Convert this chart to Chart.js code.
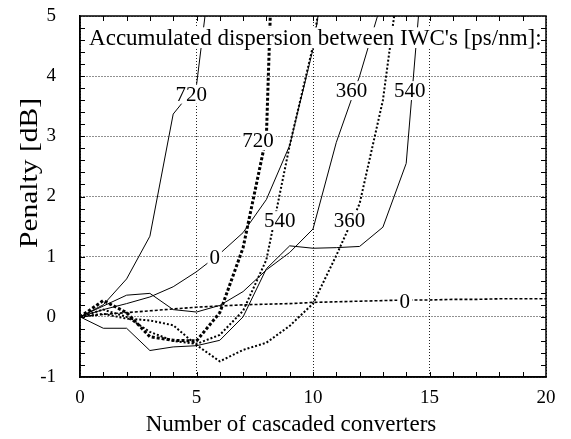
<!DOCTYPE html>
<html>
<head>
<meta charset="utf-8">
<title>Penalty vs cascaded converters</title>
<script src="https://cdn.jsdelivr.net/npm/chart.js@4.4.0/dist/chart.umd.min.js"></script>
<style>
    html, body { margin: 0; padding: 0; background: #fff; }
    #wrap { width: 571px; height: 439px; }
</style>
</head>
<body>
<div id="wrap"><canvas id="chart" width="571" height="439"></canvas></div>
<script>
// number of cascaded converters (x positions of the measured points)
const converters = [0, 1, 2, 3, 4, 5, 6, 7, 8, 9, 10, 11, 12, 13, 14, 15, 16, 17, 18, 19, 20];

// penalty [dB], solid curves
const solid0 = [0, 0.12, 0.22, 0.33, 0.5, 0.75, 1.05, 1.4, 1.95, 2.85, 4.45, 7];
const solid360 = [0, 0.18, 0.36, 0.39, 0.12, 0.08, 0.19, 0.42, 0.78, 1.07, 1.46, 2.9, 4.0, 5.3];
const solid540 = [0, -0.19, -0.19, -0.56, -0.5, -0.48, -0.39, 0.0, 0.8, 1.18, 1.14, 1.15, 1.17, 1.49, 2.55, 7.2];
const solid720 = [0, 0.2, 0.63, 1.34, 3.37, 3.85, 7];

// penalty [dB], dotted curves
const dotted0 = [0, 0.04, 0.07, 0.1, 0.13, 0.16, 0.18, 0.2, 0.21, 0.22, 0.24, 0.25, 0.26, 0.27, 0.28, 0.28, 0.29, 0.29, 0.3, 0.3, 0.3];
const dotted360 = [0, 0.05, -0.03, -0.06, -0.14, -0.47, -0.74, -0.55, -0.43, -0.15, 0.22, 1.02, 1.88, 3.6, 6.5];
const dotted540 = [0, 0.12, 0.0, -0.25, -0.4, -0.45, -0.3, 0.1, 0.95, 2.85, 4.5, 7];
const dotted720 = [0, 0.27, 0.07, -0.33, -0.39, -0.4, 0.07, 1.15, 3.0, 15];

// curve labels, placed in data units
const curveLabels = [
    { text: "720", x: 4.78, y: 3.7 },
    { text: "720", x: 7.64, y: 2.93 },
    { text: "360", x: 11.65, y: 3.76 },
    { text: "540", x: 14.15, y: 3.76 },
    { text: "540", x: 8.57, y: 1.6 },
    { text: "360", x: 11.57, y: 1.6 },
    { text: "0", x: 5.78, y: 0.99 },
    { text: "0", x: 13.94, y: 0.25 },
];
const legendTitle = { text: "Accumulated dispersion between IWC's [ps/nm]:", x: 10.1, y: 4.64 };
const xTitle = "Number of cascaded converters";
const yTitle = "Penalty [dB]";

const FONT = "'Liberation Serif', 'Times New Roman', serif";

const toPoints = (vals) => vals.map((v, i) => ({ x: converters[i], y: v }));

const lineSet = (vals, width, dash) => ({
    data: toPoints(vals),
    borderColor: "#000",
    borderWidth: width,
    borderDash: dash,
    pointRadius: 0,
    fill: false,
    tension: 0,
});

// draws the curve labels and the caption on white backgrounds
const labelPlugin = {
    id: "curveLabels",
    afterDatasetsDraw(chart) {
        const { ctx, scales } = chart;
        ctx.save();
        ctx.textAlign = "center";
        ctx.textBaseline = "middle";

        const drawLabel = (lbl, size) => {
            ctx.font = size + "px " + FONT;
            const px = scales.x.getPixelForValue(lbl.x);
            const py = scales.y.getPixelForValue(lbl.y);
            const w = ctx.measureText(lbl.text).width;
            ctx.fillStyle = "#fff";
            ctx.fillRect(px - w / 2 - 2, py - size * 0.45, w + 4, size * 0.9);
            ctx.fillStyle = "#000";
            ctx.fillText(lbl.text, px, py + 1);
        };

        curveLabels.forEach((l) => drawLabel(l, 21));
        drawLabel(legendTitle, 23);
        ctx.restore();
    },
};

// frame, small inner ticks and the two axis titles
const framePlugin = {
    id: "frame",
    afterDraw(chart) {
        const { ctx, chartArea: a, scales } = chart;
        ctx.save();
        ctx.strokeStyle = "#000";
        ctx.lineWidth = 1.5;
        ctx.strokeRect(a.left, a.top, a.right - a.left, a.bottom - a.top);

        ctx.lineWidth = 1;
        ctx.beginPath();
        for (let v = 1; v < 20; v++) {
            const px = Math.round(scales.x.getPixelForValue(v)) + 0.5;
            ctx.moveTo(px, a.bottom); ctx.lineTo(px, a.bottom - 5);
            ctx.moveTo(px, a.top); ctx.lineTo(px, a.top + 5);
        }
        for (let k = -4; k < 25; k++) {
            const py = Math.round(scales.y.getPixelForValue(k * 0.2)) + 0.5;
            ctx.moveTo(a.left, py); ctx.lineTo(a.left + 5, py);
            ctx.moveTo(a.right, py); ctx.lineTo(a.right - 5, py);
        }
        ctx.stroke();

        // axis titles (the y title in the original is a bit wider than its font)
        ctx.fillStyle = "#000";
        ctx.textAlign = "center";
        ctx.textBaseline = "middle";
        ctx.font = "23px " + FONT;
        ctx.fillText(xTitle, 291, 425);

        ctx.font = "26px " + FONT;
        const w = ctx.measureText(yTitle).width;
        ctx.translate(30, 173);
        ctx.rotate(-Math.PI / 2);
        ctx.scale(150 / w, 1);
        ctx.fillText(yTitle, 0, 0);
        ctx.restore();
    },
};

new Chart(document.getElementById("chart"), {
    type: "line",
    data: {
        datasets: [
            lineSet(solid0, 1, []),
            lineSet(solid360, 1, []),
            lineSet(solid540, 1, []),
            lineSet(solid720, 1, []),
            lineSet(dotted0, 1.6, [3, 2]),
            lineSet(dotted360, 2, [2, 2]),
            lineSet(dotted540, 2, [2, 2]),
            lineSet(dotted720, 3, [3, 2]),
        ],
    },
    options: {
        responsive: false,
        animation: false,
        layout: { padding: { top: 16, right: 25, left: 0, bottom: 0 } },
        plugins: {
            legend: { display: false },
            tooltip: { enabled: false },
        },
        scales: {
            x: {
                type: "linear",
                min: 0,
                max: 20,
                afterFit: (s) => { s.height = 62; },
                ticks: {
                    stepSize: 5,
                    color: "#000",
                    padding: 10,
                    font: { family: FONT, size: 19 },
                },
                grid: {
                    color: "#222",
                    lineWidth: 1,
                    drawTicks: false,
                },
                border: { display: true, color: "#000", width: 1.5, dash: [1, 2] },
            },
            y: {
                type: "linear",
                min: -1,
                max: 5,
                afterFit: (s) => {
                    s.width = 80;
                    // keep the label padding from pushing the plot down
                    s.paddingTop = 0;
                    s.paddingBottom = 0;
                },
                ticks: {
                    stepSize: 1,
                    color: "#000",
                    padding: 24,
                    font: { family: FONT, size: 19 },
                },
                grid: {
                    color: "#222",
                    lineWidth: 1,
                    drawTicks: false,
                },
                border: { display: true, color: "#000", width: 1.5, dash: [1, 2] },
            },
        },
    },
    plugins: [labelPlugin, framePlugin],
});
</script>
</body>
</html>
